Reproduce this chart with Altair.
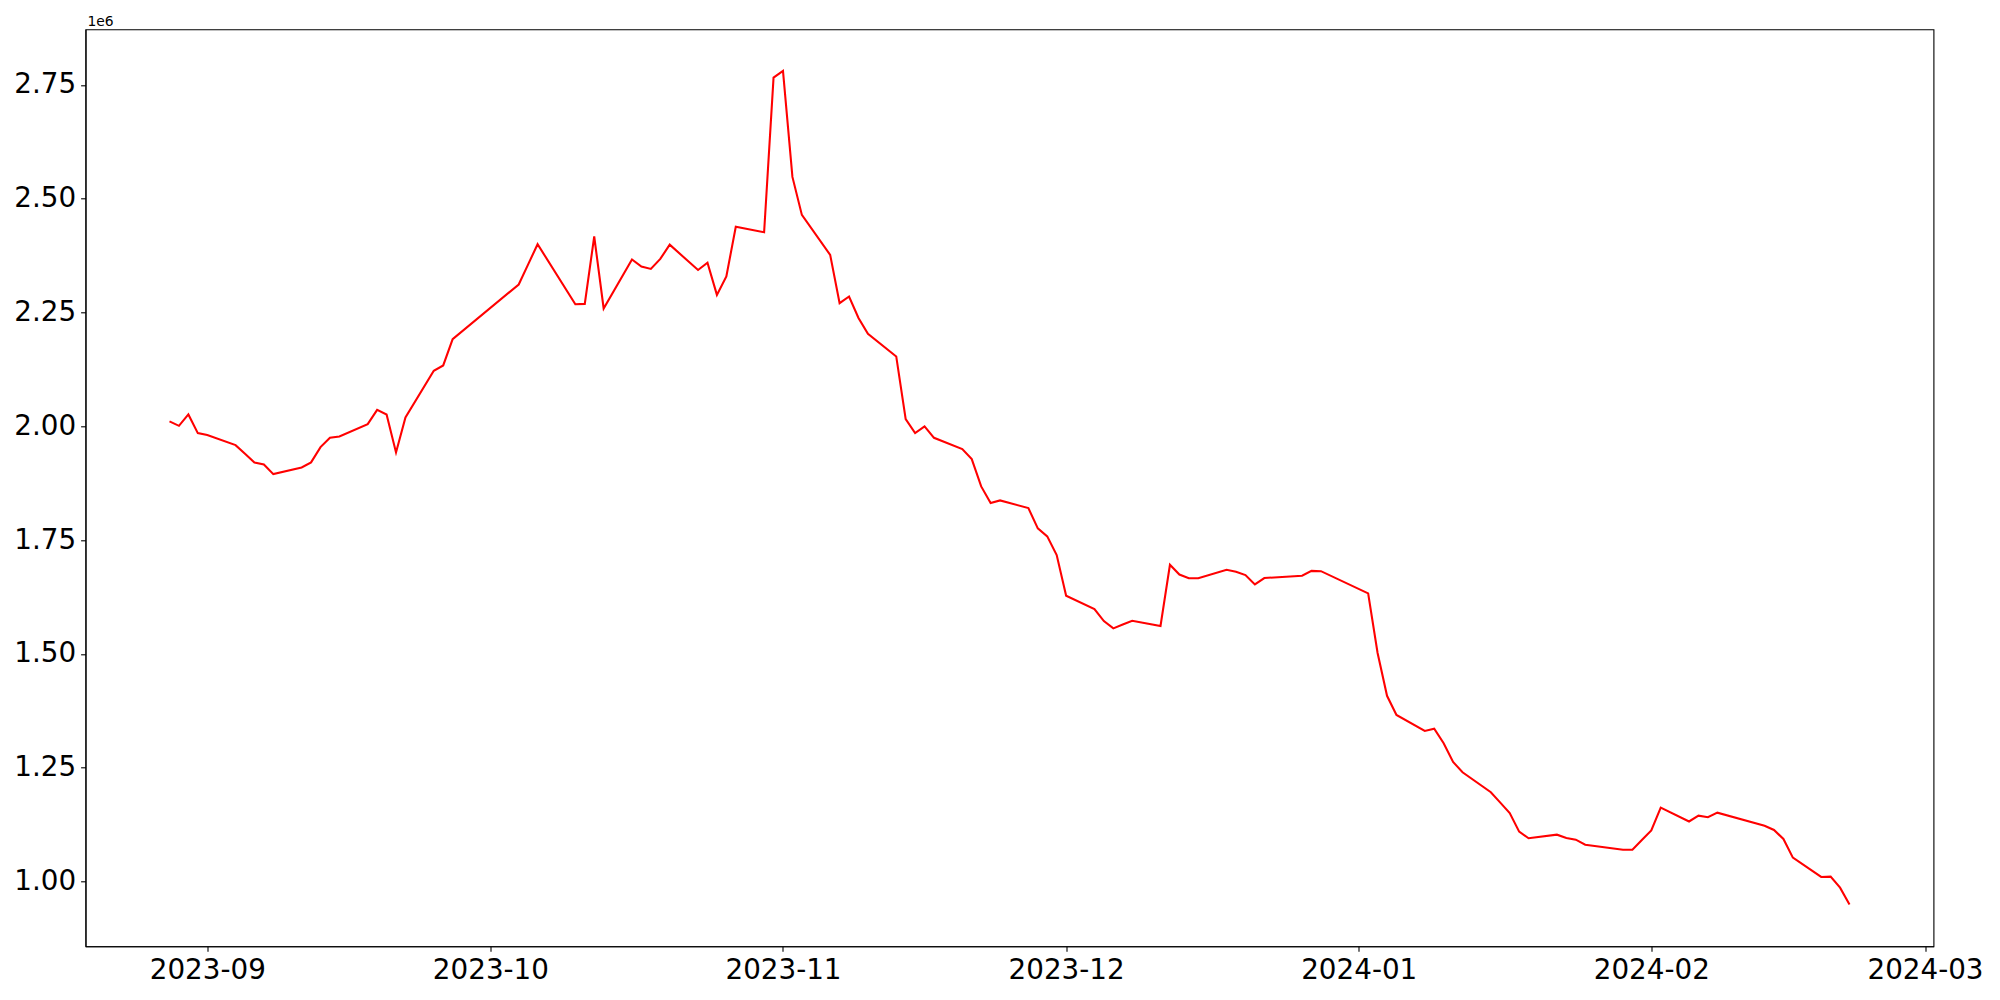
import altair as alt
import pandas as pd

dates = [
    "2023-08-28", "2023-08-29", "2023-08-30", "2023-08-31", "2023-09-01",
    "2023-09-04", "2023-09-05", "2023-09-06", "2023-09-07", "2023-09-08",
    "2023-09-11", "2023-09-12", "2023-09-13", "2023-09-14", "2023-09-15",
    "2023-09-18", "2023-09-19", "2023-09-20", "2023-09-21", "2023-09-22",
    "2023-09-25", "2023-09-26", "2023-09-27",
    "2023-10-04", "2023-10-05", "2023-10-06",
    "2023-10-10", "2023-10-11", "2023-10-12", "2023-10-13",
    "2023-10-16", "2023-10-17", "2023-10-18", "2023-10-19", "2023-10-20",
    "2023-10-23", "2023-10-24", "2023-10-25", "2023-10-26", "2023-10-27",
    "2023-10-30", "2023-10-31", "2023-11-01", "2023-11-02", "2023-11-03",
    "2023-11-06", "2023-11-07", "2023-11-08", "2023-11-09", "2023-11-10",
    "2023-11-13", "2023-11-14", "2023-11-15", "2023-11-16", "2023-11-17",
    "2023-11-20", "2023-11-21", "2023-11-22", "2023-11-23", "2023-11-24",
    "2023-11-27", "2023-11-28", "2023-11-29", "2023-11-30", "2023-12-01",
    "2023-12-04", "2023-12-05", "2023-12-06", "2023-12-07", "2023-12-08",
    "2023-12-11", "2023-12-12", "2023-12-13", "2023-12-14", "2023-12-15",
    "2023-12-18", "2023-12-19", "2023-12-20", "2023-12-21", "2023-12-22",
    "2023-12-26", "2023-12-27", "2023-12-28",
    "2024-01-02", "2024-01-03", "2024-01-04", "2024-01-05",
    "2024-01-08", "2024-01-09", "2024-01-10", "2024-01-11", "2024-01-12",
    "2024-01-15", "2024-01-16", "2024-01-17", "2024-01-18", "2024-01-19",
    "2024-01-22", "2024-01-23", "2024-01-24", "2024-01-25", "2024-01-26",
    "2024-01-29", "2024-01-30", "2024-01-31", "2024-02-01", "2024-02-02",
    "2024-02-05", "2024-02-06", "2024-02-07", "2024-02-08",
    "2024-02-13", "2024-02-14", "2024-02-15", "2024-02-16",
    "2024-02-19", "2024-02-20", "2024-02-21", "2024-02-22",
]

values = [
    2010800, 2001100, 2026100, 1985100, 1980700,
    1958700, 1939600, 1920700, 1916300, 1895000,
    1909700, 1920700, 1954300, 1974700, 1977800,
    2004800, 2036200, 2026100, 1942700, 2019500,
    2121900, 2133700, 2191500,
    2311600, 2355700, 2400100,
    2268300, 2269000, 2417000, 2258900,
    2366500, 2351100, 2345800, 2367800, 2399000,
    2343400, 2359500, 2288800, 2329200, 2438500,
    2426400, 2766100, 2780600, 2547900, 2464400,
    2376600, 2270500, 2285200, 2238000, 2203500,
    2153500, 2015800, 1985100, 1999800, 1974700,
    1949900, 1928000, 1868000, 1831400, 1837300,
    1820400, 1775800, 1758200, 1717200, 1627800,
    1598600, 1572200, 1556200, 1564600, 1572900,
    1561300, 1695900, 1674300, 1666200, 1666200,
    1684900, 1680500, 1673300, 1652800, 1666700,
    1671700, 1682500, 1681800,
    1633100, 1502000, 1408000, 1365800,
    1330700, 1335700, 1303700, 1262600, 1240000,
    1196100, 1173300, 1150600, 1109600, 1095100,
    1103000, 1095700, 1092000, 1081000, 1078200,
    1070000, 1070000, 1091300, 1112200, 1162300,
    1132000, 1144700, 1141200, 1151300,
    1122700, 1113300, 1093500, 1052500,
    1010100, 1010800, 986600, 949300,
]

y_ticks = [1000000, 1250000, 1500000, 1750000, 2000000, 2250000, 2500000, 2750000]
x_ticks = ["2023-09-01", "2023-10-01", "2023-11-01", "2023-12-01",
           "2024-01-01", "2024-02-01", "2024-03-01"]
offset_text = "1e6"


def to_ms(ts):
    return int(pd.Timestamp(ts).value // 10**6)


df = pd.DataFrame({"t": [to_ms(d) for d in dates], "value": values})

# matplotlib-like 5% margins
t0, t1 = df["t"].min(), df["t"].max()
tspan = t1 - t0
x_domain = [t0 - 0.05 * tspan, t1 + 0.05 * tspan]
v0, v1 = df["value"].min(), df["value"].max()
vspan = v1 - v0
y_domain = [v0 - 0.05 * vspan, v1 + 0.05 * vspan]

FONT = "DejaVu Sans"
W, H = 1848, 917

line = alt.Chart(df).mark_line(color="#ff0000", strokeWidth=2.08, clip=True).encode(
    x=alt.X(
        "t:T",
        scale=alt.Scale(type="utc", domain=x_domain, nice=False),
        axis=alt.Axis(
            values=[to_ms(d) for d in x_ticks],
            labelExpr="utcFormat(datum.value, '%Y-%m')",
            title=None,
            grid=False,
            labelPadding=5,
        ),
    ),
    y=alt.Y(
        "value:Q",
        scale=alt.Scale(domain=y_domain, nice=False, zero=False),
        axis=alt.Axis(
            values=y_ticks,
            labelExpr="format(datum.value / 1000000, '.2f')",
            title=None,
            grid=False,
            labelPadding=5,
        ),
    ),
)

offset = alt.Chart(pd.DataFrame({"label": [offset_text]})).mark_text(
    align="left", baseline="alphabetic", fontSize=13.9, font=FONT, color="black"
).encode(
    x=alt.value(2),
    y=alt.value(-3.5),
    text="label:N",
)

chart = (
    alt.layer(line, offset)
    .properties(
        width=W,
        height=H,
        autosize=alt.AutoSizeParams(type="none"),
        padding={"left": 77.5, "top": 21.3, "right": 58, "bottom": 45},
        background="white",
    )
    .configure_view(stroke="black", strokeWidth=1.1)
    .configure_axis(
        domainColor="black",
        domainWidth=1.1,
        tickColor="black",
        tickWidth=1.1,
        tickSize=4.9,
        labelFont=FONT,
        labelFontSize=27.8,
        labelColor="black",
    )
)

chart.save("out.html", embed_options={"renderer": "svg", "actions": False})
